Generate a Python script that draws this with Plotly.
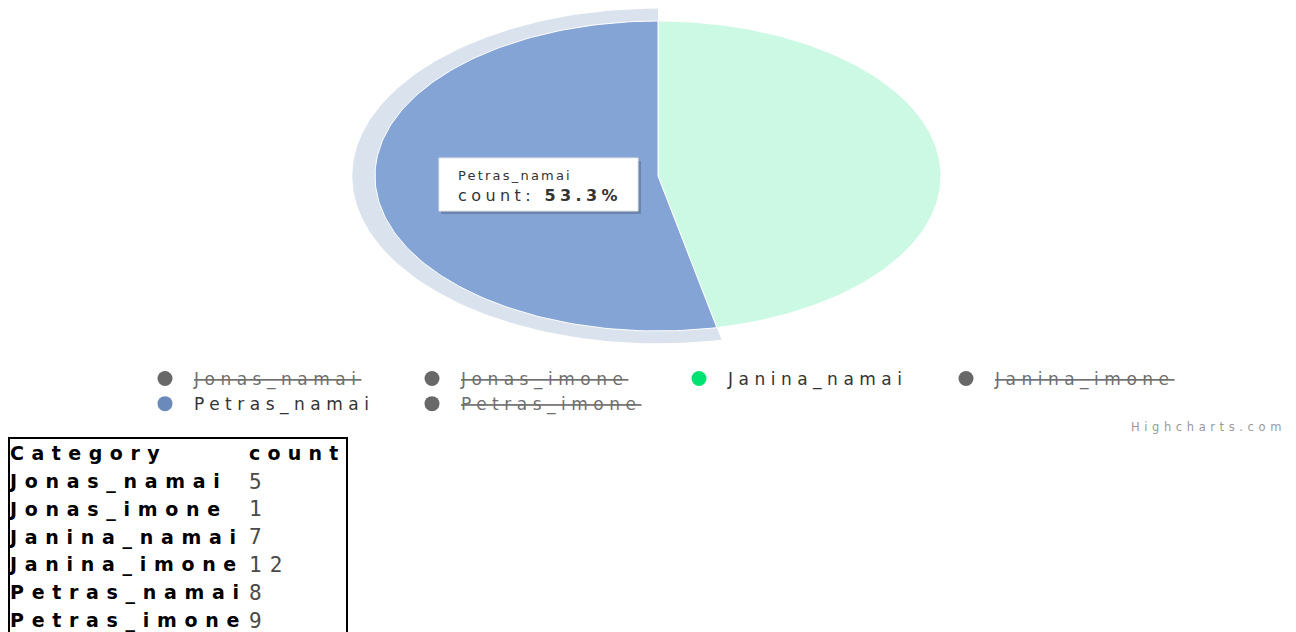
import numpy as np
import plotly.graph_objects as go

# ---------------- data ----------------
categories = ["Jonas_namai", "Jonas_imone", "Janina_namai", "Janina_imone", "Petras_namai", "Petras_imone"]
counts = [5, 1, 7, 12, 8, 9]
shown = [False, False, True, False, True, False]          # legend state (hidden series struck through)
palette = ["#2caffe", "#544fc5", "#00e272", "#fe6a35", "#6b8abc", "#d568fb"]
hovered = "Petras_namai"
value_name = "count"
header_labels = ["Category", "count"]
credit = "Highcharts.com"

# ---------------- layout constants ----------------
W, H = 1296, 632
CX, CY = 658, 176          # pie centre (px)
RX, RY = 283, 155          # pie radii (px)
HALO = 1.08
COL0_X, COL1_X = 10, 249   # table column text starts (px)
ROW0_Y, ROW_H = 455.5, 27.8  # table header centre and row pitch (px)


def px(x):
    return x / W


def py(y):
    return 1 - y / H


def wide(text, ls, extra=""):
    return f"<span style='letter-spacing:{ls}px;{extra}'>{text}</span>"


def hex_rgb(h):
    h = h.lstrip("#")
    return tuple(int(h[i:i + 2], 16) for i in (0, 2, 4))


def brighten(h, f):
    r, g, b = hex_rgb(h)
    return "rgb(%d,%d,%d)" % tuple(min(255, round(c + 255 * f)) for c in (r, g, b))


def fade(h, a):
    r, g, b = hex_rgb(h)
    return f"rgba({r},{g},{b},{a})"


def wedge(t0, t1, r, n=160):
    t = np.linspace(t0, t1, n)
    xs = np.concatenate([[0], r * np.sin(t), [0]])
    ys = np.concatenate([[0], r * np.cos(t), [0]])
    return xs, ys


fig = go.Figure()

# ---------------- pie slices (visible series only) ----------------
total = sum(c for c, s in zip(counts, shown) if s)
start = 0.0
slices = []
for cat, val, s, col in zip(categories, counts, shown, palette):
    if not s:
        continue
    ang = 2 * np.pi * val / total
    slices.append((cat, val, col, start, start + ang))
    start += ang

# halo behind hovered slice
for cat, val, col, t0, t1 in slices:
    if cat == hovered:
        hx, hy = wedge(t0, t1, HALO)
        fig.add_trace(go.Scatter(x=hx, y=hy, fill="toself", mode="lines",
                                 line=dict(width=0), fillcolor=fade(col, 0.25),
                                 showlegend=False, hoverinfo="skip"))

for cat, val, col, t0, t1 in slices:
    fill = brighten(col, 0.1) if cat == hovered else fade(col, 0.2)
    sx, sy = wedge(t0, t1, 1.0)
    fig.add_trace(go.Scatter(x=sx, y=sy, fill="toself", mode="lines",
                             line=dict(color="white", width=1), fillcolor=fill,
                             showlegend=False, hoverinfo="skip"))

# ---------------- legend entries ----------------
for cat, s, col in zip(categories, shown, palette):
    if s:
        name = wide(cat, 5.5)
        mcol = col
    else:
        name = wide(f"<s>{cat}</s>", 5.5, "color:#6f6f6f")
        mcol = "#686868"
    fig.add_trace(go.Scatter(x=[None], y=[None], mode="markers", name=name,
                             marker=dict(color=mcol, size=15, symbol="circle")))

# ---------------- data table (text on its own axes: x = column, y = row) ----------------
n_rows = len(categories) + 1
rows = list(range(n_rows))
col0_text = [f"<b>{wide(header_labels[0], 7.5)}</b>"] + [f"<b>{wide(c, 7.7)}</b>" for c in categories]
col1_text = [f"<b>{wide(header_labels[1], 7.2)}</b>"] + [wide(str(v), 8) for v in counts]
fig.add_trace(go.Scatter(
    x=[0] * n_rows, y=rows, mode="text", text=col0_text, textposition="middle right",
    textfont=dict(family="DejaVu Sans", size=19, color="black"),
    xaxis="x2", yaxis="y2", showlegend=False, hoverinfo="skip", cliponaxis=False))
fig.add_trace(go.Scatter(
    x=[1] * n_rows, y=rows, mode="text", text=col1_text, textposition="middle right",
    textfont=dict(family=["DejaVu Sans"] + ["DejaVu Sans Mono"] * len(counts),
                  size=[19] + [21] * len(counts),
                  color=["black"] + ["#4a4a4a"] * len(counts)),
    xaxis="x2", yaxis="y2", showlegend=False, hoverinfo="skip", cliponaxis=False))

# ---------------- tooltip ----------------
hv = [(c, v) for c, v, s in zip(categories, counts, shown) if c == hovered][0]
pct = 100 * hv[1] / total
shapes = [
    dict(type="rect", xref="paper", yref="paper", x0=px(441), x1=px(641), y0=py(161), y1=py(214),
         fillcolor="rgba(0,0,0,0.18)", line=dict(width=0)),
    dict(type="rect", xref="paper", yref="paper", x0=px(439), x1=px(638), y0=py(158), y1=py(211),
         fillcolor="white", line=dict(color="#e6e6e6", width=1)),
    # table frame
    dict(type="rect", xref="paper", yref="paper", x0=px(9), x1=px(347), y0=py(660), y1=py(438),
         fillcolor="rgba(0,0,0,0)", line=dict(color="black", width=2)),
]
annotations = [
    dict(xref="paper", yref="paper", x=px(456), y=py(166), xanchor="left", yanchor="top",
         align="left", showarrow=False,
         text=wide(hv[0], 2.2, "font-size:13px") + "<br>" + wide(f"{value_name}: <b>{pct:.1f}%</b>", 4.4),
         font=dict(family="DejaVu Sans", size=16, color="#333333")),
    dict(xref="paper", yref="paper", x=px(1288), y=py(427), xanchor="right", yanchor="middle",
         showarrow=False, text=wide(credit, 4.6), font=dict(family="DejaVu Sans", size=11.5, color="#999999")),
]

col_w = COL1_X - COL0_X
fig.update_layout(
    width=W, height=H, margin=dict(l=0, r=0, t=0, b=0),
    paper_bgcolor="white", plot_bgcolor="rgba(0,0,0,0)",
    xaxis=dict(visible=False, range=[-CX / RX, (W - CX) / RX], fixedrange=True),
    yaxis=dict(visible=False, range=[-(H - CY) / RY, CY / RY], fixedrange=True),
    xaxis2=dict(visible=False, domain=[0, 1], anchor="y2", fixedrange=True,
                range=[-COL0_X / col_w, (W - COL0_X) / col_w]),
    yaxis2=dict(visible=False, domain=[0, 1], anchor="x2", fixedrange=True,
                range=[(H - ROW0_Y) / ROW_H, -ROW0_Y / ROW_H]),
    legend=dict(orientation="h", x=px(136), xanchor="left", y=py(361), yanchor="top",
                entrywidth=204, entrywidthmode="pixels", bgcolor="rgba(0,0,0,0)",
                itemwidth=48,
                font=dict(family="DejaVu Sans", size=17, color="#333333"),
                itemclick=False, itemdoubleclick=False),
    shapes=shapes, annotations=annotations,
    hovermode=False,
)

fig.write_html("out.html", config={"displayModeBar": False},
               post_script="document.body.style.margin='0';")
